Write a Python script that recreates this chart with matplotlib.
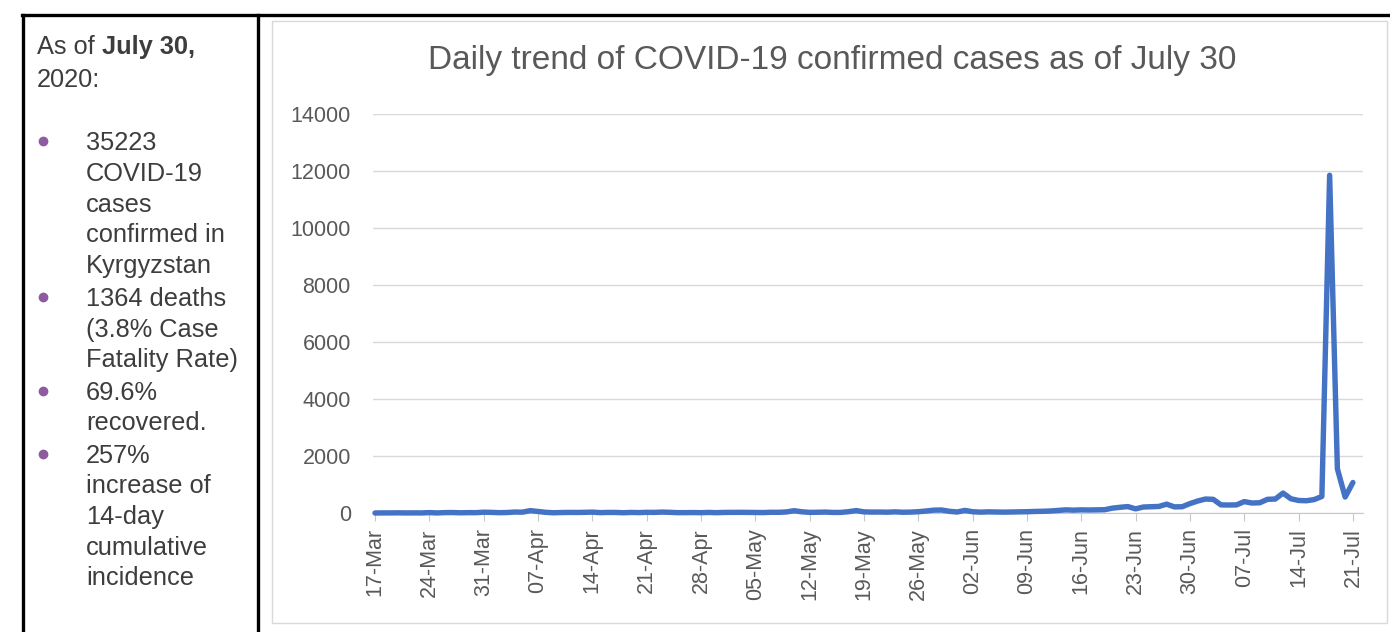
import datetime as dt
import numpy as np
import matplotlib.pyplot as plt
from matplotlib.lines import Line2D
from matplotlib.patches import Rectangle

W, H = 1390, 632

# daily confirmed cases, one value per day starting 17-Mar-2020
cases = [0, 3, 3, 6, 2, 4, 2, 14, 2, 14,
         16, 7, 13, 12, 28, 22, 11, 17, 33, 30,
         84, 54, 24, 8, 16, 21, 19, 23, 31, 13,
         20, 20, 9, 20, 14, 24, 21, 32, 24, 12,
         13, 16, 11, 20, 11, 20, 22, 23, 21, 19,
         15, 25, 24, 37, 80, 42, 22, 26, 32, 20,
         21, 46, 85, 40, 32, 34, 28, 40, 27, 31,
         45, 70, 100, 105, 60, 35, 90, 45, 30, 40,
         35, 30, 35, 40, 45, 55, 60, 70, 90, 110,
         100, 110, 105, 110, 115, 170, 200, 225, 145, 210,
         220, 230, 310, 215, 220, 330, 420, 490, 480, 285,
         280, 285, 400, 350, 360, 480, 490, 700, 500, 440,
         430, 470, 580, 11850, 1550, 560, 1070]
start = dt.date(2020, 3, 17)
days = np.arange(len(cases))
tick_days = np.arange(0, len(cases), 7)
tick_labels = [(start + dt.timedelta(days=int(d))).strftime("%d-%b") for d in tick_days]
y_ticks = np.arange(0, 14001, 2000)

title = "Daily trend of COVID-19 confirmed cases as of July 30"
side_lines = [
    ("35223", True), ("COVID-19", False), ("cases", False), ("confirmed in", False), ("Kyrgyzstan", False),
    ("1364 deaths", True), ("(3.8% Case", False), ("Fatality Rate)", False),
    ("69.6%", True), ("recovered.", False),
    ("257%", True), ("increase of", False), ("14-day", False), ("cumulative", False), ("incidence", False),
]
side_y = [141, 172, 203, 233, 264, 297, 328, 358, 391, 421, 454, 484, 515, 546, 576]

plt.rcParams['font.family'] = ['Liberation Sans', 'DejaVu Sans']

fig = plt.figure(figsize=(W / 100, H / 100), dpi=100)


def fx(x):
    return x / W


def fy(y):
    return 1 - y / H


# table borders
for xs, ys in [((22, W), (15, 15)), ((23, 23), (15, H)), ((258, 258), (15, H))]:
    fig.add_artist(Line2D([fx(v) for v in xs], [fy(v) for v in ys], color='black', lw=2.4,
                          transform=fig.transFigure))
fig.add_artist(Rectangle((fx(272), fy(623)), fx(1387) - fx(272), fy(21) - fy(623),
                         fill=False, ec='#d9d9d9', lw=1, transform=fig.transFigure))

# chart
ax = fig.add_axes([fx(373), fy(513), fx(1363) - fx(373), fy(114) - fy(513)])
ax.plot(days, cases, color='#4472C4', lw=3.9, solid_joinstyle='round', solid_capstyle='round',
        clip_on=False, zorder=3)
ax.set_xlim(-0.26, 127.3)
ax.set_ylim(0, 14000)
ax.set_yticks(y_ticks)
ax.set_yticklabels([str(v) for v in y_ticks])
ax.set_xticks(tick_days)
ax.set_xticklabels(tick_labels, rotation=90)
ax.grid(axis='y', color='#d9d9d9', lw=1)
ax.set_axisbelow(True)
for s in ['left', 'right', 'top']:
    ax.spines[s].set_visible(False)
ax.spines['bottom'].set_color('#c8c8c8')
ax.tick_params(axis='y', length=0, pad=16, labelsize=15.5, labelcolor='#595959')
ax.tick_params(axis='x', length=6, color='#c8c8c8', pad=5, labelsize=15.5, labelcolor='#595959')

t = fig.text(fx(832), fy(61), title, ha='center', va='center', fontsize=22, color='#595959')
r = fig.canvas.get_renderer()
w = t.get_window_extent(r).width
t.set_fontsize(22 * 808 / w)

# side panel
txt_col = '#3d3d3d'
fs = 18.3
a = fig.text(fx(37), fy(54), "As of ", fontsize=fs, color=txt_col)
aw = a.get_window_extent(r).width
fig.text(fx(37 + aw), fy(54), "July 30,", fontsize=fs, color=txt_col, fontweight='bold')
fig.text(fx(37), fy(87), "2020:", fontsize=fs, color=txt_col)
for (s, bullet), yc in zip(side_lines, side_y):
    fig.text(fx(86), fy(yc + 9), s, fontsize=fs, color=txt_col)
    if bullet:
        fig.add_artist(Line2D([fx(43)], [fy(yc)], marker='o', ms=6, color='#8e5ba0', lw=0,
                              transform=fig.transFigure))

fig.savefig("out.png", dpi=100)
